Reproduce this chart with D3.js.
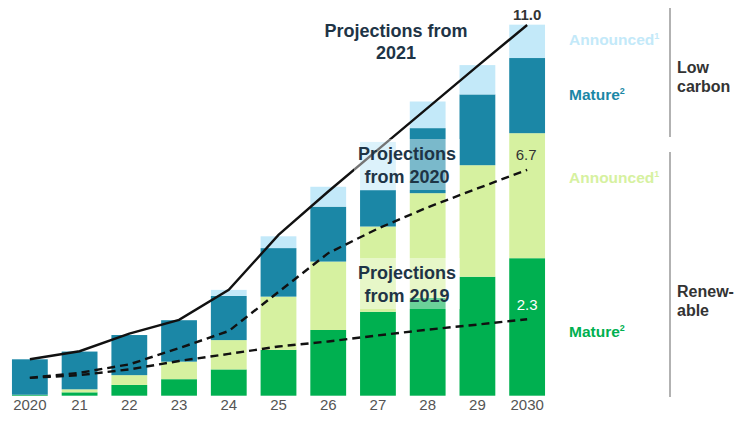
<!DOCTYPE html>
<html lang="en">

<head>
    <meta charset="UTF-8">
    <title>Capacity projections</title>
    <script src="https://d3js.org/d3.v7.min.js"></script>
    <style>
        body { margin: 0; background: #fff; }
        svg { font-family: "Liberation Sans", Arial, sans-serif; }
    </style>
</head>

<body>

    <svg></svg>

    <script>

        // Data
        const years = ["2020", "21", "22", "23", "24", "25", "26", "27", "28", "29", "2030"];
        const renMature    = [0.03, 0.10, 0.32, 0.49, 0.78, 1.36, 1.95, 2.49, 2.90, 3.53, 4.08];
        const renAnnounced = [0.00, 0.09, 0.29, 0.52, 0.87, 1.58, 2.03, 2.53, 3.11, 3.31, 3.71];
        const lcMature     = [1.05, 1.12, 1.19, 1.23, 1.31, 1.44, 1.63, 1.08, 1.93, 2.10, 2.23];
        const lcAnnounced  = [0.00, 0.00, 0.00, 0.00, 0.18, 0.35, 0.59, 1.43, 0.79, 0.87, 0.99];
        const proj2021 = [1.08, 1.32, 1.84, 2.25, 3.14, 4.77, 6.06, 7.30, 8.54, 9.78, 11.0];
        const proj2020 = [0.53, 0.68, 0.93, 1.41, 1.92, 3.08, 4.23, 4.96, 5.59, 6.15, 6.70];
        const proj2019 = [0.53, 0.61, 0.78, 1.03, 1.24, 1.46, 1.61, 1.79, 1.96, 2.11, 2.27];

        const keys = ["renMature", "renAnnounced", "lcMature", "lcAnnounced"];
        const colors = {
            renMature: "#00b050",
            renAnnounced: "#d6f1a0",
            lcMature: "#1b87a6",
            lcAnnounced: "#c3e9f9"
        };

        const table = years.map((yr, i) => ({
            year: yr,
            renMature: renMature[i],
            renAnnounced: renAnnounced[i],
            lcMature: lcMature[i],
            lcAnnounced: lcAnnounced[i]
        }));

        const width = 736, height = 421;
        const svg = d3.select("svg")
            .attr("width", width)
            .attr("height", height);

        const x = d3.scaleBand()
            .domain(years)
            .range([5, 552])
            .paddingInner(0.28)
            .paddingOuter(0.14);

        const y = d3.scaleLinear()
            .domain([0, 11])
            .range([395.7, 25]);

        // Stacked bars
        const series = d3.stack().keys(keys)(table);
        svg.append("g")
            .selectAll("g")
            .data(series)
            .join("g")
            .attr("fill", d => colors[d.key])
            .selectAll("rect")
            .data(d => d)
            .join("rect")
            .attr("x", d => x(d.data.year))
            .attr("y", d => y(d[1]))
            .attr("width", x.bandwidth())
            .attr("height", d => y(d[0]) - y(d[1]));

        // Projection lines
        const cx = (d, i) => x(years[i]) + x.bandwidth() / 2;
        const line = d3.line().x(cx).y(d => y(d));

        svg.append("path")
            .datum(proj2021)
            .attr("d", line)
            .attr("fill", "none")
            .attr("stroke", "#111")
            .attr("stroke-width", 2.4);

        [proj2020, proj2019].forEach(p => {
            svg.append("path")
                .datum(p)
                .attr("d", line)
                .attr("fill", "none")
                .attr("stroke", "#111")
                .attr("stroke-width", 2.4)
                .attr("stroke-dasharray", "8,5");
        });

        // X axis
        const xAxis = svg.append("g")
            .attr("transform", `translate(0, ${y(0)})`)
            .call(d3.axisBottom(x).tickSize(0).tickPadding(4));
        xAxis.select(".domain").remove();
        xAxis.selectAll("text")
            .style("font-size", "15px")
            .style("font-family", "'Liberation Sans', Arial, sans-serif")
            .attr("fill", "#555");

        // End value labels
        const last = years.length - 1;
        const lx = x(years[last]) + x.bandwidth() / 2;
        svg.append("text").attr("x", lx).attr("y", 20)
            .attr("text-anchor", "middle").attr("fill", "#333")
            .style("font-size", "15px").style("font-weight", "bold")
            .text(proj2021[last].toFixed(1));
        svg.append("text").attr("x", lx - 1).attr("y", 160)
            .attr("text-anchor", "middle").attr("fill", "#333")
            .style("font-size", "15px")
            .text(proj2020[last].toFixed(1));
        svg.append("text").attr("x", lx).attr("y", 310)
            .attr("text-anchor", "middle").attr("fill", "#fff")
            .style("font-size", "15px")
            .text(proj2019[last].toFixed(1));

        // Projection captions
        function caption(lines, cxPos, base, box) {
            if (box) {
                svg.append("rect")
                    .attr("x", box[0]).attr("y", box[1])
                    .attr("width", box[2]).attr("height", box[3])
                    .attr("fill", "#fff").attr("fill-opacity", 0.42);
            }
            const t = svg.append("text")
                .attr("text-anchor", "middle")
                .attr("fill", "#1e3446")
                .style("font-size", "18px")
                .style("font-weight", "bold");
            lines.forEach((s, i) => {
                t.append("tspan").attr("x", cxPos).attr("y", base + i * 22.5).text(s);
            });
        }
        caption(["Projections from", "2021"], 396, 36.5, null);
        caption(["Projections", "from 2020"], 407, 160, [354, 139, 106, 51]);
        caption(["Projections", "from 2019"], 407, 279, [354, 258, 106, 51]);

        // Legend
        function legend(label, sup, color, yPos) {
            const t = svg.append("text")
                .attr("x", 569).attr("y", yPos)
                .attr("fill", color)
                .style("font-size", "15.5px")
                .style("font-weight", "bold")
                .text(label);
            t.append("tspan").attr("dy", -6).style("font-size", "9px").text(sup);
        }
        legend("Announced", "1", colors.lcAnnounced, 45);
        legend("Mature", "2", colors.lcMature, 100);
        legend("Announced", "1", colors.renAnnounced, 183);
        legend("Mature", "2", colors.renMature, 337);

        // Group brackets
        svg.append("line").attr("x1", 670).attr("x2", 670).attr("y1", 8).attr("y2", 137)
            .attr("stroke", "#999").attr("stroke-width", 1.5);
        svg.append("line").attr("x1", 670).attr("x2", 670).attr("y1", 152).attr("y2", 397)
            .attr("stroke", "#999").attr("stroke-width", 1.5);

        function group(lines, base) {
            const t = svg.append("text")
                .attr("fill", "#333")
                .style("font-size", "16px")
                .style("font-weight", "bold");
            lines.forEach((s, i) => {
                t.append("tspan").attr("x", 677).attr("y", base + i * 19).text(s);
            });
        }
        group(["Low", "carbon"], 72.5);
        group(["Renew-", "able"], 297);

    </script>

</body>

</html>
